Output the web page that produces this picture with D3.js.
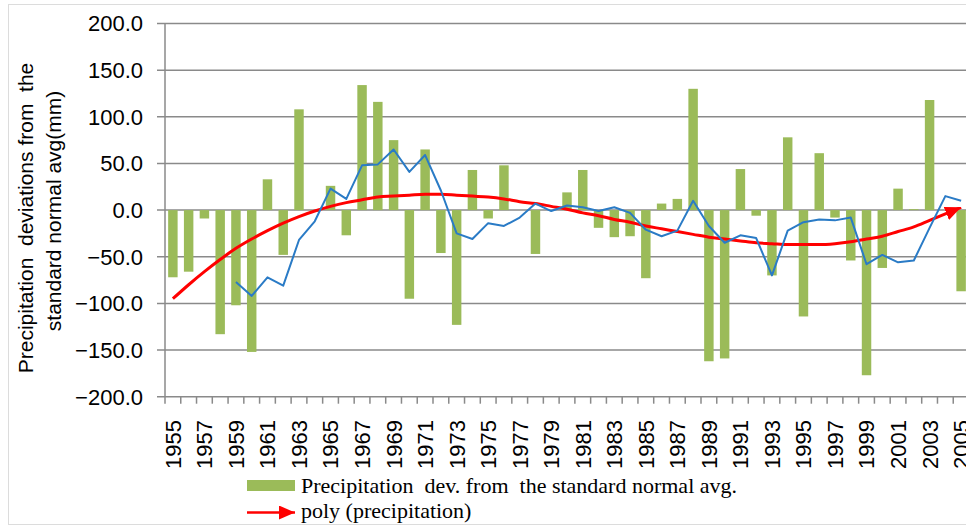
<!DOCTYPE html>
<html>
<head>
<meta charset="utf-8">
<script src="https://cdn.jsdelivr.net/npm/d3@7"></script>
<style>
  html, body { margin: 0; padding: 0; background: #fff; }
  svg { display: block; }
</style>
</head>
<body>
<div id="chart"></div>
<script>
// years on the x axis
const years = [1955, 1956, 1957, 1958, 1959, 1960, 1961, 1962, 1963, 1964,
               1965, 1966, 1967, 1968, 1969, 1970, 1971, 1972, 1973, 1974,
               1975, 1976, 1977, 1978, 1979, 1980, 1981, 1982, 1983, 1984,
               1985, 1986, 1987, 1988, 1989, 1990, 1991, 1992, 1993, 1994,
               1995, 1996, 1997, 1998, 1999, 2000, 2001, 2002, 2003, 2004, 2005];

// precipitation deviation from the standard normal avg (mm)
const precipDev = [-72, -66, -9, -133, -102, -152, 33, -48, 108, -2,
                   26, -27, 134, 116, 75, -95, 65, -46, -123, 43,
                   -9, 48, 0, -47, 0, 19, 43, -19, -29, -28,
                   -73, 7, 12, 130, -162, -159, 44, -6, -70, 78,
                   -114, 61, -8, -54, -177, -62, 23, 1, 118, 0, -87];

// blue moving average line (starts in 1959)
const movingAvg = [null, null, null, null, -77, -92, -72, -81, -32, -12,
                   23, 12, 48, 49, 65, 41, 59, 21, -25, -31,
                   -14, -17, -8, 7, -1, 5, 3, -1, 3, -3,
                   -21, -28, -22, 10, -17, -35, -27, -30, -70, -22,
                   -13, -10, -11, -8, -58, -48, -56, -54, -19, 15, 10];

// red poly trend line
const polyTrend = [-95, -80, -66, -53, -41, -31, -22, -14, -7, -1,
                   4, 8, 11, 14, 15, 16, 17, 17, 16, 15,
                   14, 12, 9, 7, 4, 1, -3, -6, -10, -13,
                   -17, -20, -23, -26, -29, -31, -33, -35, -36, -37,
                   -37, -37, -36, -34, -31, -28, -23, -18, -11, -4, 3];

const yTicks = [-200, -150, -100, -50, 0, 50, 100, 150, 200];
const legendLabels = ["Precipitation  dev. from  the standard normal avg.", "poly (precipitation)"];

drawChart();

function drawChart() {
    const W = 966, H = 527;
    const left = 165, right = 969, top = 23.5, bottom = 396.7;
    const gridColor = "#8a8a8a";

    const svg = d3.select("#chart").append("svg")
        .attr("width", W)
        .attr("height", H);

    // faint chart border
    svg.append("rect")
        .attr("x", 8.5).attr("y", 4.5)
        .attr("width", 980).attr("height", 520)
        .attr("fill", "none")
        .attr("stroke", "#dcdcdc");

    const x = d3.scaleBand()
        .domain(years)
        .range([left, right])
        .paddingInner(0.4)
        .paddingOuter(0.2);

    const y = d3.scaleLinear()
        .domain([-200, 200])
        .range([bottom, top]);

    // horizontal grid lines
    svg.append("g").selectAll("line")
        .data(yTicks)
        .join("line")
        .attr("x1", left - 8).attr("x2", W)
        .attr("y1", d => y(d)).attr("y2", d => y(d))
        .attr("stroke", gridColor)
        .attr("stroke-width", 1.5);

    // y axis line
    svg.append("line")
        .attr("x1", left).attr("x2", left)
        .attr("y1", top).attr("y2", bottom + 7)
        .attr("stroke", gridColor)
        .attr("stroke-width", 1.5);

    // y tick labels
    svg.append("g").selectAll("text")
        .data(yTicks)
        .join("text")
        .attr("x", 143)
        .attr("y", d => y(d))
        .attr("dy", "0.36em")
        .attr("text-anchor", "end")
        .style("font-family", "'Liberation Sans', Arial, sans-serif")
        .style("font-size", "22px")
        .attr("fill", "#000")
        .text(d => d3.format(".1f")(d));

    // x ticks between categories
    const step = x.step();
    svg.append("g").selectAll("line")
        .data(years)
        .join("line")
        .attr("x1", d => x(d) + x.bandwidth() / 2 + step / 2)
        .attr("x2", d => x(d) + x.bandwidth() / 2 + step / 2)
        .attr("y1", bottom).attr("y2", bottom + 7)
        .attr("stroke", gridColor)
        .attr("stroke-width", 1.5);

    // x labels, every other year, rotated
    svg.append("g").selectAll("text")
        .data(years.filter((d, i) => i % 2 === 0))
        .join("text")
        .attr("transform", d => "translate(" + (x(d) + x.bandwidth() / 2) + ",420) rotate(-90)")
        .attr("dy", "0.36em")
        .attr("text-anchor", "end")
        .style("font-family", "'Liberation Sans', Arial, sans-serif")
        .style("font-size", "22px")
        .attr("fill", "#000")
        .text(d => d);

    // bars
    svg.append("g").selectAll("rect")
        .data(years)
        .join("rect")
        .attr("x", d => x(d))
        .attr("width", x.bandwidth())
        .attr("y", (d, i) => y(Math.max(0, precipDev[i])))
        .attr("height", (d, i) => Math.abs(y(precipDev[i]) - y(0)))
        .attr("fill", "#9bbb59");

    // arrow marker for poly trend
    const defs = svg.append("defs");
    defs.append("marker")
        .attr("id", "arrow")
        .attr("markerUnits", "userSpaceOnUse")
        .attr("viewBox", "0 0 16 14")
        .attr("refX", 16).attr("refY", 7)
        .attr("markerWidth", 16).attr("markerHeight", 14)
        .attr("orient", "auto")
        .append("path")
        .attr("d", "M0,0 L16,7 L0,14 Z")
        .attr("fill", "#ff0000");

    const cx = (d, i) => x(years[i]) + x.bandwidth() / 2;

    // poly trend line
    const trendLine = d3.line()
        .x(cx)
        .y(d => y(d))
        .curve(d3.curveMonotoneX);
    svg.append("path")
        .attr("d", trendLine(polyTrend))
        .attr("fill", "none")
        .attr("stroke", "#ff0000")
        .attr("stroke-width", 3)
        .attr("marker-end", "url(#arrow)");

    // moving average line
    const avgLine = d3.line()
        .defined(d => d !== null)
        .x(cx)
        .y(d => y(d));
    svg.append("path")
        .attr("d", avgLine(movingAvg))
        .attr("fill", "none")
        .attr("stroke", "#2a7bc6")
        .attr("stroke-width", 2)
        .attr("stroke-linejoin", "round");

    // y axis title (two lines)
    const ttl = svg.append("g")
        .style("font-family", "'Liberation Sans', Arial, sans-serif")
        .style("font-size", "21px")
        .attr("fill", "#000");
    ttl.append("text")
        .attr("transform", "translate(33,218) rotate(-90)")
        .attr("text-anchor", "middle")
        .style("white-space", "pre")
        .text("Precipitation  deviations from  the");
    ttl.append("text")
        .attr("transform", "translate(61,211) rotate(-90)")
        .attr("text-anchor", "middle")
        .text("standard normal avg(mm)");

    // legend
    const lg = svg.append("g")
        .style("font-family", "'Liberation Serif', 'Times New Roman', serif")
        .style("font-size", "22px")
        .attr("fill", "#000");
    lg.append("rect")
        .attr("x", 247).attr("y", 480)
        .attr("width", 48).attr("height", 11)
        .attr("fill", "#9bbb59");
    lg.append("text")
        .attr("x", 301).attr("y", 493)
        .style("white-space", "pre")
        .text(legendLabels[0]);
    lg.append("line")
        .attr("x1", 247).attr("x2", 295)
        .attr("y1", 512.5).attr("y2", 512.5)
        .attr("stroke", "#ff0000")
        .attr("stroke-width", 2.5)
        .attr("marker-end", "url(#arrow)");
    lg.append("text")
        .attr("x", 301).attr("y", 518)
        .text(legendLabels[1]);
}
</script>
</body>
</html>
